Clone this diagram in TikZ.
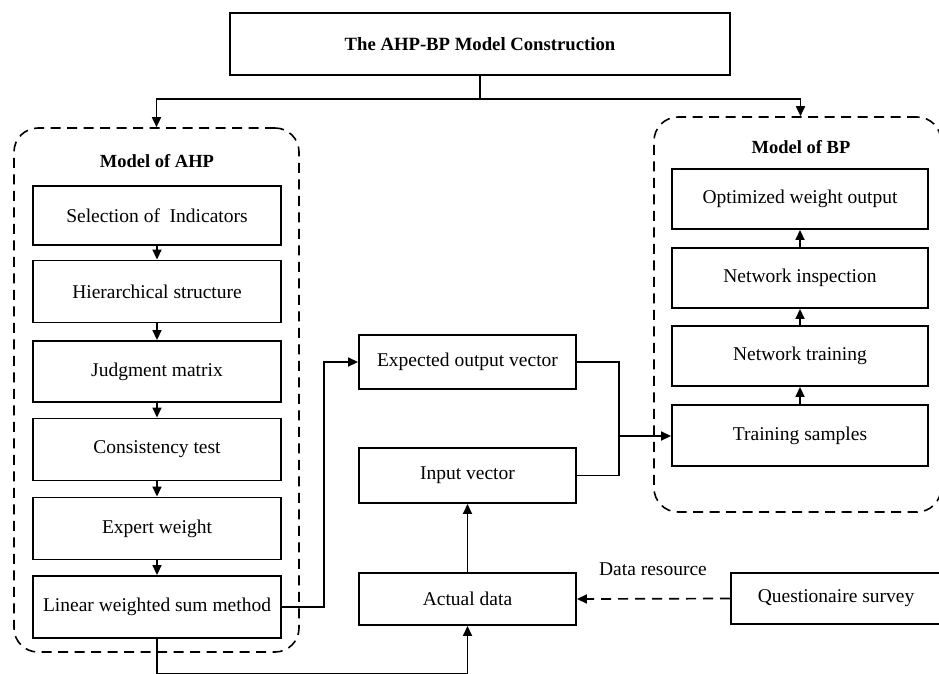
\documentclass[tikz,border=0pt]{standalone}
\usepackage{fontspec}
\setmainfont{Liberation Serif}
\usetikzlibrary{arrows.meta}
\tikzset{
  box/.style={draw, line width=1.9pt, fill=white, inner sep=0pt, align=center,
    font=\fontsize{19.5}{22}\selectfont},
  group/.style={draw, line width=1.6pt, dash pattern=on 10pt off 6.5pt, rounded corners=24pt, inner sep=0pt},
  grouptitle/.style={font=\fontsize{18.5}{22}\selectfont\bfseries, inner sep=0pt},
  conn/.style={line width=1.7pt},
  arr/.style={line width=1.7pt, -{Triangle[length=10pt,width=9pt]}},
  lbl/.style={font=\fontsize{19.5}{22}\selectfont, inner sep=0pt}
}
\begin{document}
\begin{tikzpicture}[x=1pt,y=-1pt]
\useasboundingbox (0,0) rectangle (939,673);
% groups
\node[group, minimum width=285pt, minimum height=524pt] (ahpg) at (156.5,390) {};
\node[group, minimum width=287pt, minimum height=395pt] (bpg) at (797.5,314.5) {};
\node[grouptitle] (ahpt) at (157,161) {Model of AHP};
\node[grouptitle] (bpt) at (801,147) {Model of BP};
% title
\node[box, minimum width=500pt, minimum height=62pt, font=\fontsize{18.7}{22}\selectfont\bfseries] (title) at (480,44) {The AHP-BP Model Construction};
% AHP chain
\node[box, minimum width=248pt, minimum height=59pt] (sel) at (157,215.5) {Selection of~ Indicators};
\node[box, minimum width=248pt, minimum height=62pt] (hier) at (157,291.5) {Hierarchical structure};
\node[box, minimum width=248pt, minimum height=61pt] (judg) at (157,371.5) {Judgment matrix};
\node[box, minimum width=248pt, minimum height=62pt] (cons) at (157,449.5) {Consistency test};
\node[box, minimum width=248pt, minimum height=62pt] (expw) at (157,528.5) {Expert weight};
\node[box, minimum width=248pt, minimum height=62pt] (lin) at (157,607) {Linear weighted sum method};
% BP chain
\node[box, minimum width=256pt, minimum height=60pt] (opt) at (800,199) {Optimized weight output};
\node[box, minimum width=256pt, minimum height=60pt] (insp) at (800,278) {Network inspection};
\node[box, minimum width=256pt, minimum height=60pt] (train) at (800,356) {Network training};
\node[box, minimum width=256pt, minimum height=61pt] (samp) at (800,435.5) {Training samples};
% middle
\node[box, minimum width=217pt, minimum height=54pt] (exp) at (467.5,362) {Expected output vector};
\node[box, minimum width=217pt, minimum height=55pt] (inp) at (467.5,475.5) {Input vector};
\node[box, minimum width=217pt, minimum height=52pt] (act) at (467.5,599) {Actual data};
\node[box, minimum width=210pt, minimum height=51pt] (quest) at (836,598.5) {Questionaire survey};
\node[lbl] (dres) at (653,569) {Data resource};
% connectors
\draw[conn] (title.south) -- ++(0,23) coordinate (sp);
\draw[arr] (sp) -| (ahpg.north);
\draw[arr] (sp) -| ([xshift=3pt]bpg.north);
\draw[arr] (sel) -- (hier);
\draw[arr] (hier) -- (judg);
\draw[arr] (judg) -- (cons);
\draw[arr] (cons) -- (expw);
\draw[arr] (expw) -- (lin);
\draw[arr] (samp) -- (train);
\draw[arr] (train) -- (insp);
\draw[arr] (insp) -- (opt);
\draw[arr] (lin.east) -- ++(42,0) |- (exp.west);
\coordinate (jn) at (619,436);
\draw[conn] (exp.east) -| (jn);
\draw[conn] (inp.east) -| (jn);
\draw[arr] (jn) -- (jn -| samp.west);
\draw[arr] (act) -- (inp);
\draw[arr, dash pattern=on 10pt off 7pt] (quest.west) -- (act.east);
\draw[arr] (lin.south) -- ++(0,35) -| (act.south);
\end{tikzpicture}
\end{document}
